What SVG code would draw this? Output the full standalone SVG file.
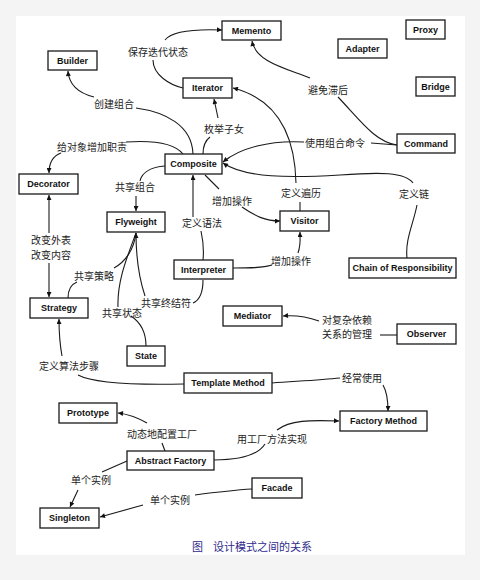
<svg xmlns="http://www.w3.org/2000/svg" width="480" height="580" viewBox="0 0 480 580">
<style>
.node rect{fill:#fff;stroke:#1a1a1a;stroke-width:1.3}
.node text{font-family:"Liberation Sans",Arial,sans-serif;font-weight:bold;font-size:9px;fill:#111;text-anchor:middle}
.conn path{fill:none;stroke:#1a1a1a;stroke-width:1.1}
.lbl{font-family:"Noto Sans CJK SC","Noto Sans",sans-serif;font-size:10px;fill:#222}
.cap{font-family:"Noto Sans CJK SC","Noto Sans",sans-serif;font-size:11px;fill:#2e2a8c}
</style>
<defs>
<marker id="ah" viewBox="0 0 10 10" refX="10" refY="5" markerWidth="7" markerHeight="5" markerUnits="userSpaceOnUse" orient="auto"><path d="M0,0 L10,5 L0,10 z" fill="#111"/></marker>
</defs>
<rect x="0" y="0" width="480" height="580" fill="#f4f4f4"/>
<rect x="16" y="16" width="449" height="539" fill="#fff"/>

<g class="conn">
<path d="M153,60 C153,75 170,85 183,88"/>
<path d="M165,40 C172,31 195,29 222,30" marker-end="url(#ah)"/>
<path d="M310,78 C285,68 256,62 252,41" marker-end="url(#ah)"/>
<path d="M338,97 C360,120 375,142 397,145"/>
<path d="M136,108 C165,112 192,125 193,154"/>
<path d="M94,97 C78,93 69,85 68,71" marker-end="url(#ah)"/>
<path d="M203,154 C203,145 206,140 210,137"/>
<path d="M218,118 L214,99" marker-end="url(#ah)"/>
<path d="M126,142 C155,140 175,144 183,154"/>
<path d="M61,153 C53,156 49,162 49,173" marker-end="url(#ah)"/>
<path d="M296,183 C295,140 280,100 233,88" marker-end="url(#ah)"/>
<path d="M300,202 L300,211"/>
<path d="M371,143 L397,145"/>
<path d="M304,142 C270,140 240,148 223,162" marker-end="url(#ah)"/>
<path d="M413,183 C405,172 380,172 340,175 C290,178 245,178 223,163" marker-end="url(#ah)"/>
<path d="M417,205 C413,225 405,240 407,258"/>
<path d="M205,175 L219,189"/>
<path d="M242,207 C255,216 265,221 280,221" marker-end="url(#ah)"/>
<path d="M193,217 L193,175" marker-end="url(#ah)"/>
<path d="M201,231 C203,240 204,250 203,260"/>
<path d="M233,268 C250,268 262,268 272,265"/>
<path d="M298,253 C301,245 300,238 300,232" marker-end="url(#ah)"/>
<path d="M140,181 C142,172 152,167 165,166"/>
<path d="M136,196 L136,211" marker-end="url(#ah)"/>
<path d="M49,233 L49,195" marker-end="url(#ah)"/>
<path d="M49,263 L49,297" marker-end="url(#ah)"/>
<path d="M68,298 C68,288 72,284 77,282"/>
<path d="M114,268 C125,262 134,250 136,233"/>
<path d="M146,346 C146,332 140,322 131,316"/>
<path d="M118,307 C117,280 128,255 136,233"/>
<path d="M193,303 C200,300 203,293 203,280"/>
<path d="M145,296 C138,275 136,255 136,233" marker-end="url(#ah)"/>
<path d="M380,335 L397,335"/>
<path d="M319,321 C305,316 295,315 283,316" marker-end="url(#ah)"/>
<path d="M184,384 C140,385 95,384 78,375"/>
<path d="M62,356 C60,345 59,335 59,319" marker-end="url(#ah)"/>
<path d="M272,383 C300,381 320,380 340,378"/>
<path d="M383,385 C387,392 388,400 388,411" marker-end="url(#ah)"/>
<path d="M165,451 L162,443"/>
<path d="M147,423 C138,418 128,414 118,413" marker-end="url(#ah)"/>
<path d="M214,460 C240,460 258,455 265,444"/>
<path d="M277,430 C290,420 310,420 339,421" marker-end="url(#ah)"/>
<path d="M127,461 L102,472"/>
<path d="M78,490 L70,507" marker-end="url(#ah)"/>
<path d="M252,489 C235,490 210,493 195,495"/>
<path d="M143,505 L100,517" marker-end="url(#ah)"/>
</g>

<g id="labels">
<text class="lbl" x="128" y="55.5">保存迭代状态</text>
<text class="lbl" x="94" y="107.5">创建组合</text>
<text class="lbl" x="204" y="132.5">枚举子女</text>
<text class="lbl" x="57" y="150.5">给对象增加职责</text>
<text class="lbl" x="308" y="93.5">避免滞后</text>
<text class="lbl" x="305" y="146.5">使用组合命令</text>
<text class="lbl" x="115" y="190.5">共享组合</text>
<text class="lbl" x="212" y="204.5">增加操作</text>
<text class="lbl" x="281" y="196.5">定义遍历</text>
<text class="lbl" x="399" y="197.5">定义链</text>
<text class="lbl" x="182" y="226.5">定义语法</text>
<text class="lbl" x="31" y="243.5">改变外表</text>
<text class="lbl" x="31" y="258.5">改变内容</text>
<text class="lbl" x="271" y="264.5">增加操作</text>
<text class="lbl" x="74" y="279.5">共享策略</text>
<text class="lbl" x="141" y="306.5">共享终结符</text>
<text class="lbl" x="102" y="316.5">共享状态</text>
<text class="lbl" x="39" y="369.5">定义算法步骤</text>
<text class="lbl" x="322" y="323.5">对复杂依赖</text>
<text class="lbl" x="322" y="337.5">关系的管理</text>
<text class="lbl" x="342" y="381.5">经常使用</text>
<text class="lbl" x="127" y="437.5">动态地配置工厂</text>
<text class="lbl" x="237" y="442.5">用工厂方法实现</text>
<text class="lbl" x="71" y="483.5">单个实例</text>
<text class="lbl" x="150" y="503.5">单个实例</text>
</g>

<g id="n-memento" class="node"><rect x="222" y="21" width="59" height="19"/><text x="251.5" y="33.8">Memento</text></g>
<g id="n-builder" class="node"><rect x="48" y="51" width="49" height="19"/><text x="72.5" y="63.8">Builder</text></g>
<g id="n-iterator" class="node"><rect x="183" y="78" width="49" height="20"/><text x="207.5" y="91.3">Iterator</text></g>
<g id="n-proxy" class="node"><rect x="406" y="20" width="39" height="19"/><text x="425.5" y="32.8">Proxy</text></g>
<g id="n-adapter" class="node"><rect x="338" y="39" width="49" height="19"/><text x="362.5" y="51.8">Adapter</text></g>
<g id="n-bridge" class="node"><rect x="416" y="77" width="39" height="19"/><text x="435.5" y="89.8">Bridge</text></g>
<g id="n-command" class="node"><rect x="397" y="134" width="58" height="19"/><text x="426" y="146.8">Command</text></g>
<g id="n-composite" class="node"><rect x="165" y="154" width="57" height="20"/><text x="193.5" y="167.3">Composite</text></g>
<g id="n-decorator" class="node"><rect x="19" y="174" width="59" height="20"/><text x="48.5" y="187.3">Decorator</text></g>
<g id="n-flyweight" class="node"><rect x="107" y="212" width="58" height="20"/><text x="136" y="225.3">Flyweight</text></g>
<g id="n-visitor" class="node"><rect x="280" y="211" width="49" height="20"/><text x="304.5" y="224.3">Visitor</text></g>
<g id="n-interpreter" class="node"><rect x="174" y="260" width="59" height="19"/><text x="203.5" y="272.8">Interpreter</text></g>
<g id="n-chain" class="node"><rect x="349" y="258" width="107" height="20"/><text x="402.5" y="271.3">Chain of Responsibility</text></g>
<g id="n-strategy" class="node"><rect x="30" y="298" width="58" height="20"/><text x="59" y="311.3">Strategy</text></g>
<g id="n-state" class="node"><rect x="127" y="346" width="38" height="20"/><text x="146" y="359.3">State</text></g>
<g id="n-mediator" class="node"><rect x="223" y="306" width="59" height="20"/><text x="252.5" y="319.3">Mediator</text></g>
<g id="n-observer" class="node"><rect x="397" y="324" width="59" height="20"/><text x="426.5" y="337.3">Observer</text></g>
<g id="n-template" class="node"><rect x="184" y="373" width="88" height="20"/><text x="228" y="386.3">Template Method</text></g>
<g id="n-prototype" class="node"><rect x="59" y="403" width="58" height="20"/><text x="88" y="416.3">Prototype</text></g>
<g id="n-factory" class="node"><rect x="340" y="411" width="87" height="20"/><text x="383.5" y="424.3">Factory Method</text></g>
<g id="n-abstract" class="node"><rect x="127" y="451" width="87" height="19"/><text x="170.5" y="463.8">Abstract Factory</text></g>
<g id="n-singleton" class="node"><rect x="40" y="508" width="59" height="20"/><text x="69.5" y="521.3">Singleton</text></g>
<g id="n-facade" class="node"><rect x="252" y="478" width="50" height="20"/><text x="277" y="491.3">Facade</text></g>

<text class="cap" x="192" y="551">图</text>
<text class="cap" x="213" y="551">设计模式之间的关系</text>
</svg>
